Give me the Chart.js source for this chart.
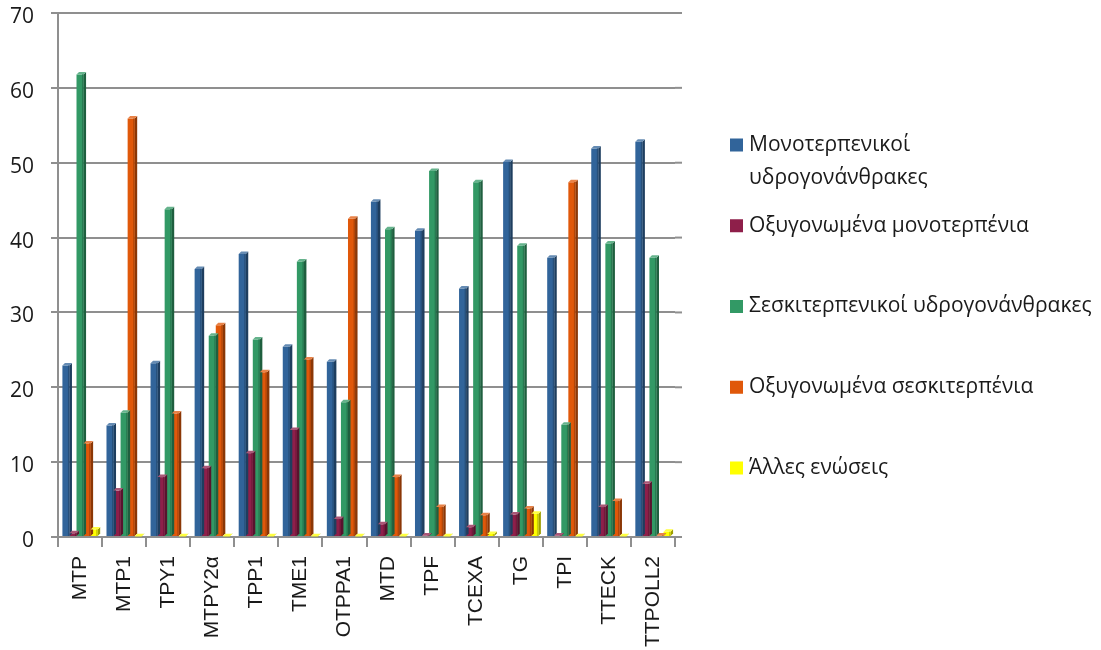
<!DOCTYPE html>
<html>
<head>
<meta charset="utf-8">
<script src="https://cdn.jsdelivr.net/npm/chart.js@4"></script>
<style>
  html, body { margin: 0; padding: 0; background: #ffffff; }
  #wrap { width: 1101px; height: 650px; position: relative; }
</style>
</head>
<body>
<div id="wrap"><canvas id="chart"></canvas></div>
<script>
// Essential-oil composition (%) per sample
const categories = ['MTP', 'MTP1', 'TPY1', 'MTPY2α', 'TPP1', 'TME1', 'OTPPA1', 'MTD', 'TPF', 'TCEXA', 'TG', 'TPI', 'TTECK', 'TTPOLL2'];
const seriesNames = [
  'Μονοτερπενικοί\nυδρογονάνθρακες',
  'Οξυγονωμένα μονοτερπένια',
  'Σεσκιτερπενικοί υδρογονάνθρακες',
  'Οξυγονωμένα σεσκιτερπένια',
  'Άλλες ενώσεις'
];
const monoterpeneHC     = [22.9, 14.9, 23.2, 35.8, 37.8, 25.4, 23.4, 44.8, 40.9, 33.2, 50.1, 37.3, 51.9, 52.8];
const oxyMonoterpenes   = [0.5, 6.2, 8.0, 9.2, 11.2, 14.3, 2.4, 1.7, 0.2, 1.3, 3.0, 0.2, 4.0, 7.1];
const sesquiterpeneHC   = [61.8, 16.6, 43.8, 26.9, 26.4, 36.8, 18.0, 41.1, 48.9, 47.4, 38.9, 15.0, 39.2, 37.3];
const oxySesquiterpenes = [12.5, 55.9, 16.5, 28.3, 22.0, 23.7, 42.5, 8.0, 4.0, 2.9, 3.8, 47.4, 4.8, 0.2];
const otherCompounds    = [1.0, 0.1, 0.1, 0.1, 0.1, 0.1, 0.1, 0.1, 0.1, 0.4, 3.1, 0.1, 0.1, 0.7];
const yTicks = [0, 10, 20, 30, 40, 50, 60, 70];

const seriesValues = [monoterpeneHC, oxyMonoterpenes, sesquiterpeneHC, oxySesquiterpenes, otherCompounds];
const seriesColors = ['#31649a', '#8e1f4a', '#329965', '#e0580a', '#ffff00'];
const gridColor = '#8f8f8f';

function shade(hex, f) {
  const n = parseInt(hex.slice(1), 16);
  const ch = [(n >> 16) & 255, (n >> 8) & 255, n & 255].map(c =>
    Math.max(0, Math.min(255, Math.round(f < 1 ? c * f : c + (255 - c) * (f - 1)))));
  return 'rgb(' + ch.join(',') + ')';
}

// Side and top faces give each column a shallow 3-D look
const columnFaces = {
  id: 'columnFaces',
  afterDatasetsDraw(chart) {
    const ctx = chart.ctx;
    const d = 2.5;
    ctx.save();
    chart.data.datasets.forEach((ds, i) => {
      const meta = chart.getDatasetMeta(i);
      const base = seriesColors[i];
      meta.data.forEach(el => {
        const { x, y, base: b, width } = el.getProps(['x', 'y', 'base', 'width'], true);
        const l = x - width / 2, r = x + width / 2;
        ctx.fillStyle = shade(base, 0.62);
        ctx.beginPath();
        ctx.moveTo(r, y); ctx.lineTo(r + d, y - d); ctx.lineTo(r + d, b - d); ctx.lineTo(r, b);
        ctx.closePath(); ctx.fill();
        ctx.fillStyle = shade(base, 1.25);
        ctx.beginPath();
        ctx.moveTo(l, y); ctx.lineTo(l + d, y - d); ctx.lineTo(r + d, y - d); ctx.lineTo(r, y);
        ctx.closePath(); ctx.fill();
        ctx.fillStyle = shade(base, 0.8);
        ctx.fillRect(r - 1.5, y, 1.5, b - y);
      });
    });
    ctx.restore();
  }
};

// Gridlines continue a little past the last category, onto the back wall
const wallEdge = {
  id: 'wallEdge',
  beforeDatasetsDraw(chart) {
    const { ctx, chartArea } = chart;
    const ys = chart.scales.y;
    ctx.save();
    ctx.strokeStyle = gridColor;
    ctx.lineWidth = 2;
    yTicks.forEach(v => {
      const py = ys.getPixelForValue(v);
      ctx.beginPath();
      ctx.moveTo(chartArea.right, py);
      ctx.lineTo(chartArea.right + 7, py);
      ctx.stroke();
    });
    ctx.restore();
  }
};

// Legend drawn at the right of the plot
const sideLegend = {
  id: 'sideLegend',
  afterDraw(chart) {
    const ctx = chart.ctx;
    const boxX = 730, firstY = 145, step = 80.75, lineH = 33, box = 13;
    ctx.save();
    ctx.font = '21px "Open Sans", sans-serif';
    ctx.textBaseline = 'middle';
    ctx.textAlign = 'left';
    chart.data.datasets.forEach((ds, i) => {
      const y = firstY + i * step;
      ctx.fillStyle = seriesColors[i];
      ctx.fillRect(boxX, y - box / 2, box, box);
      ctx.fillStyle = '#1a1a1a';
      seriesNames[i].split('\n').forEach((line, k) => {
        ctx.fillText(line, boxX + 19, y + k * lineH);
      });
    });
    ctx.restore();
  }
};

new Chart(document.getElementById('chart'), {
  type: 'bar',
  data: {
    labels: categories,
    datasets: seriesValues.map((vals, i) => ({
      label: seriesNames[i].replace('\n', ' '),
      data: vals,
      backgroundColor: seriesColors[i],
      borderWidth: 0,
      categoryPercentage: 0.8,
      barPercentage: 1.0
    }))
  },
  options: {
    responsive: true,
    maintainAspectRatio: false,
    animation: false,
    layout: { padding: { left: 10, right: 426, top: 0, bottom: 0 } },
    plugins: {
      legend: { display: false },
      tooltip: { enabled: false }
    },
    scales: {
      x: {
        afterFit(scale) {
          scale.height = 113;
          scale.paddingLeft = 0;
          scale.paddingRight = 0;
        },
        grid: {
          display: true,
          drawOnChartArea: false,
          offset: true,
          color: gridColor,
          lineWidth: 2,
          tickLength: 10
        },
        border: { display: true, color: gridColor, width: 2 },
        ticks: {
          autoSkip: false,
          minRotation: 90,
          maxRotation: 90,
          padding: 9,
          color: '#1a1a1a',
          font: { family: '"Liberation Sans", Arial, sans-serif', size: 21 }
        }
      },
      y: {
        min: 0,
        max: 70,
        afterBuildTicks(scale) { scale.ticks = yTicks.map(v => ({ value: v })); },
        afterFit(scale) {
          scale.width = 48;
          scale.paddingTop = 13;
          scale.paddingBottom = 0;
        },
        grid: {
          color: gridColor,
          lineWidth: 2,
          tickLength: 7,
          drawTicks: true
        },
        border: { display: true, color: gridColor, width: 2 },
        ticks: {
          padding: 17,
          labelOffset: 4,
          color: '#1a1a1a',
          font: { family: '"Open Sans", sans-serif', size: 21 }
        }
      }
    }
  },
  plugins: [wallEdge, columnFaces, sideLegend]
});
</script>
</body>
</html>
